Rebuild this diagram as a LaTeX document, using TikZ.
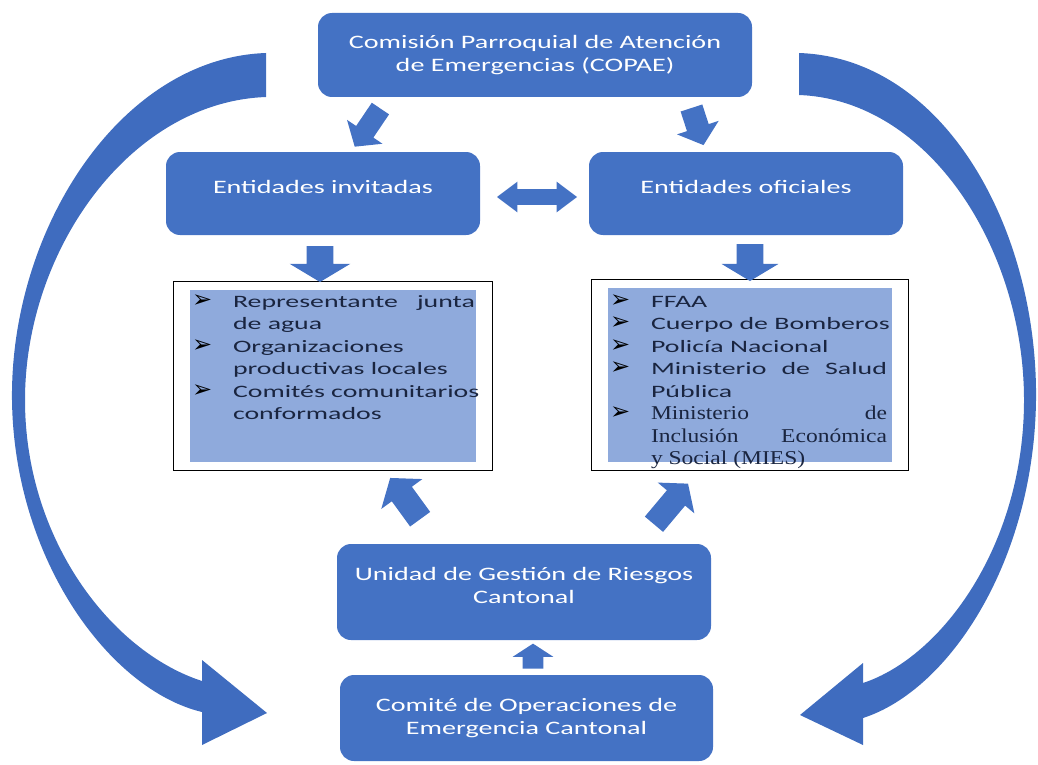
\documentclass[tikz,border=0pt]{standalone}
\usepackage{fontspec}
\setmainfont{Carlito}
\newfontfamily\cajafont[FakeStretch=1.48]{Carlito}
\newfontfamily\listafont[FakeStretch=1.6]{Carlito}
\newfontfamily\timesfont[FakeStretch=1.2]{Liberation Serif}
\newfontfamily\vinetafont{DejaVu Sans}
\usetikzlibrary{shapes.arrows,fit}
\definecolor{azul}{HTML}{4472C4}
\definecolor{azulcurva}{HTML}{3F6CBF}
\definecolor{azulclaro}{HTML}{8FAADC}
\definecolor{tinta}{HTML}{1A2540}
\newcommand\vin{\hspace*{1pt}\makebox[20.5pt][l]{\color{black}\vinetafont\fontsize{12}{12}\selectfont ➢}}
\newcommand\sang{\hspace*{21.5pt}}
\newcommand\just[2][121pt]{\makebox[#1][s]{#2}}
\newcommand\tms{\timesfont\fontsize{9.8}{11.25}\selectfont}

\begin{document}
\begin{tikzpicture}[x=0.5pt, y=-0.5pt,
	caja/.style={fill=azul, rounded corners=7pt, text=white, align=center, font=\cajafont\fontsize{9.5}{11.5}\selectfont},
	lista/.style={fill=azulclaro, inner sep=0pt, text=tinta},
	marco/.style={draw=black, line width=0.6pt, inner xsep=8pt, inner ysep=4pt},
	flecha/.style={single arrow, fill=azul, inner xsep=0pt, single arrow head indent=0pt},
	flechad/.style={double arrow, fill=azul, inner xsep=0pt, double arrow head indent=0pt}]
	\useasboundingbox (0,0) rectangle (1038,765);
	\fill[azulcurva] (266,53) .. controls (120,58) and (10,230) .. (12,400) .. controls (14,560) and (110,690) .. (202,712) -- (202,745) -- (267,713) -- (202,660) -- (202,681) .. controls (112,652) and (25,540) .. (25,400) .. controls (25,250) and (130,102) .. (266,97) -- cycle;
	\fill[azulcurva] (799,53) .. controls (945,58) and (1038,230) .. (1036,400) .. controls (1034,560) and (950,690) .. (863,718) -- (863,745) -- (800,715) -- (863,663) -- (863,683) .. controls (942,657) and (1024,545) .. (1024,400) .. controls (1024,250) and (930,100) .. (799,95) -- cycle;
	\node[caja, minimum width=217pt, minimum height=42pt] (copae) at (535,55) {Comisión Parroquial de Atención\\de Emergencias (COPAE)};
	\node[caja, minimum width=157pt, minimum height=41.5pt, text depth=7pt] (invitadas) at (323,193.5) {Entidades invitadas};
	\node[caja, minimum width=157pt, minimum height=41.5pt, text depth=7pt] (oficiales) at (746,193.5) {Entidades oficiales};
	\node[caja, minimum width=187pt, minimum height=48pt, text depth=7pt] (unidad) at (524,592) {Unidad de Gestión de Riesgos\\Cantonal};
	\node[caja, minimum width=186.5pt, minimum height=43pt] (comite) at (526.5,718) {Comité de Operaciones de\\Emergencia Cantonal};
	\node[lista, minimum width=143pt, minimum height=86pt] (invl) at (333,376) {\parbox[c][86pt][t]{143pt}{\listafont\fontsize{8.7}{11.25}\selectfont
		\rule{0pt}{8.5pt}\vin\just{Representante junta}\\
		\sang\mbox{de agua}\\
		\vin\mbox{Organizaciones}\\
		\sang\mbox{productivas locales}\\
		\vin\mbox{Comités comunitarios}\\
		\sang\mbox{conformados}}};
	\node[lista, minimum width=142pt, minimum height=87pt] (ofil) at (750,375) {\parbox[c][87pt][t]{142pt}{\listafont\fontsize{8.7}{11.25}\selectfont
		\rule{0pt}{9.5pt}\vin\mbox{FFAA}\\
		\vin\mbox{Cuerpo de Bomberos}\\
		\vin\mbox{Policía Nacional}\\
		\vin\just[118pt]{Ministerio de Salud}\\
		\sang\mbox{Pública}\\
		\vin{\tms\just[118pt]{Ministerio\hfill de}}\\
		\sang{\tms\just[118pt]{Inclusión Económica}}\\
		\sang{\tms\mbox{y Social (MIES)}}}};
	\node[marco, fit=(invl)] (invm) {};
	\node[marco, fit=(ofil)] (ofim) {};
	\node[flecha, rotate=-124, minimum height=23pt, minimum width=21pt, inner ysep=5pt, single arrow head extend=5.5pt, single arrow tip angle=100] (f1) at (370,124) {};
	\node[flecha, rotate=-72, minimum height=19.5pt, minimum width=21.5pt, inner ysep=5.5pt, single arrow head extend=5.25pt, single arrow tip angle=100] (f2) at (696,122) {};
	\node[flechad, minimum height=40pt, minimum width=15pt, inner ysep=3.75pt, double arrow head extend=3.75pt, double arrow tip angle=74] (f3) at (537,197) {};
	\node[flecha, rotate=-90, minimum height=18pt, minimum width=30pt, inner ysep=6.5pt, single arrow head extend=8.5pt, single arrow tip angle=118] (f4) at (320,260) {};
	\node[flecha, rotate=-90, minimum height=18.5pt, minimum width=28pt, inner ysep=6.5pt, single arrow head extend=7.5pt, single arrow tip angle=118] (f5) at (750,258.5) {};
	\node[flecha, rotate=126, minimum height=25.5pt, minimum width=25pt, inner ysep=6pt, single arrow head extend=6.5pt, single arrow tip angle=104] (f6) at (408,502.5) {};
	\node[flecha, rotate=50, minimum height=26.5pt, minimum width=23.5pt, inner ysep=5.75pt, single arrow head extend=6pt, single arrow tip angle=104] (f7) at (668,507.5) {};
	\node[flecha, rotate=90, minimum height=12.5pt, minimum width=20pt, inner ysep=5pt, single arrow head extend=5pt, single arrow tip angle=114] (f8) at (533,659.5) {};
\end{tikzpicture}
\end{document}
